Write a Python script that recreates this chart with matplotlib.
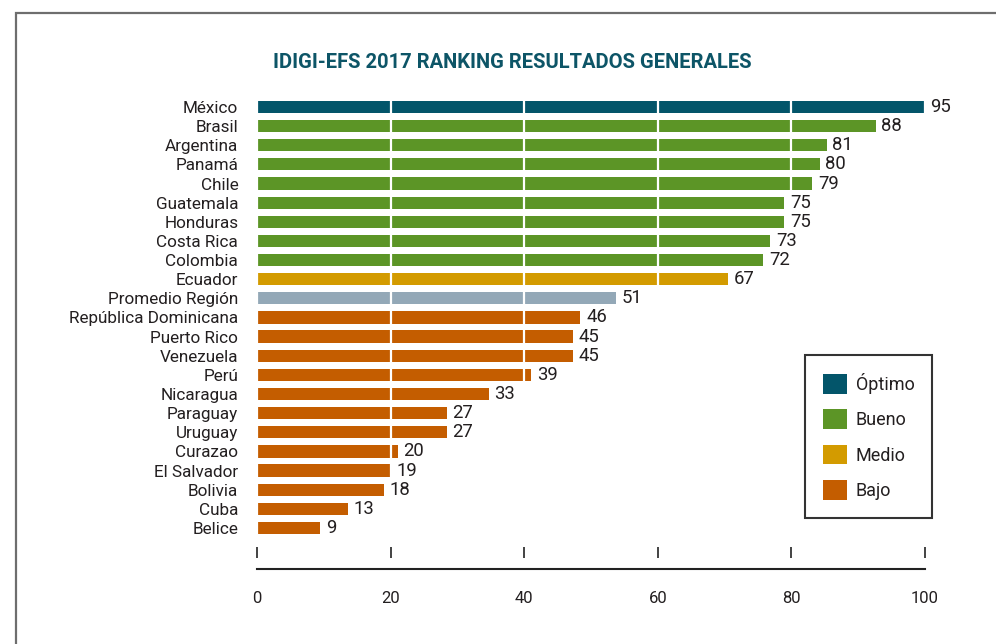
import matplotlib.pyplot as plt
from matplotlib.patches import Patch, Rectangle

plt.rcParams['font.family'] = ['Roboto', 'DejaVu Sans']

# datos del ranking
countries = ['México', 'Brasil', 'Argentina', 'Panamá', 'Chile', 'Guatemala',
             'Honduras', 'Costa Rica', 'Colombia', 'Ecuador', 'Promedio Región',
             'República Dominicana', 'Puerto Rico', 'Venezuela', 'Perú',
             'Nicaragua', 'Paraguay', 'Uruguay', 'Curazao', 'El Salvador',
             'Bolivia', 'Cuba', 'Belice']
values = [95, 88, 81, 80, 79, 75, 75, 73, 72, 67, 51, 46, 45, 45, 39, 33,
          27, 27, 20, 19, 18, 13, 9]
levels = ['Óptimo', 'Bueno', 'Bueno', 'Bueno', 'Bueno', 'Bueno', 'Bueno',
          'Bueno', 'Bueno', 'Medio', 'Promedio', 'Bajo', 'Bajo', 'Bajo', 'Bajo',
          'Bajo', 'Bajo', 'Bajo', 'Bajo', 'Bajo', 'Bajo', 'Bajo', 'Bajo']
legend_levels = ['Óptimo', 'Bueno', 'Medio', 'Bajo']
axis_ticks = [0, 20, 40, 60, 80, 100]

level_colors = {
    'Óptimo': '#03556a',
    'Bueno': '#5c9526',
    'Medio': '#d39b00',
    'Bajo': '#c45d00',
    'Promedio': '#93a8b7',
}
text_color = '#231f20'

fig = plt.figure(figsize=(9.96, 6.44), dpi=100)

# marco gris del recuadro
fig.patches.append(Rectangle((16 / 996, -0.2), 1.2, 1.2 - 13 / 644,
                             transform=fig.transFigure, fill=False,
                             edgecolor='#6e6e6e', linewidth=1.6))

ax = fig.add_axes([257 / 996, 86 / 644, 668 / 996, 460.6 / 644])
n = len(countries)
ypos = list(range(n))
ax.barh(ypos, values, height=0.64,
        color=[level_colors[l] for l in levels], zorder=2)
ax.set_xlim(0, max(values))
ax.set_ylim(n - 1 + 1.57, -0.5)

# eje de referencia 0-100 (encima de las barras)
ax2 = ax.twiny()
ax2.set_xlim(0, 100)
ax2.set_xticks(axis_ticks)
ax2.xaxis.set_ticks_position('bottom')
ax2.xaxis.set_label_position('bottom')
ax2.tick_params(axis='x', direction='in', length=8, width=1.2,
                color='#222222', pad=24, labelsize=12, labelcolor=text_color)
ax2.grid(axis='x', color='white', linewidth=1.6)
for s in ax2.spines.values():
    s.set_visible(False)
ax2.plot([0, 100], [-11 / 460.6] * 2, transform=ax2.get_xaxis_transform(),
         color='#222222', linewidth=1.5, clip_on=False)

ax.set_yticks(ypos)
ax.set_yticklabels(countries, fontsize=12.3, color=text_color)
ax.tick_params(axis='y', length=0, pad=13.5)
ax.tick_params(axis='x', bottom=False, top=False,
               labelbottom=False, labeltop=False)
for s in ax.spines.values():
    s.set_visible(False)

for y, v in zip(ypos, values):
    ax2.annotate(str(v), (v, y), xycoords=ax.transData,
                 xytext=(4, 0), textcoords='offset points',
                 ha='left', va='center', fontsize=13.3, color=text_color)

fig.text(512 / 996, 1 - 62 / 644, 'IDIGI-EFS 2017 RANKING RESULTADOS GENERALES',
         ha='center', va='center', fontsize=14.5, fontweight='bold',
         color='#0d5567')

handles = [Patch(facecolor=level_colors[l], edgecolor='none', label=l)
           for l in legend_levels]
leg = ax2.legend(handles=handles, loc='upper left',
                 bbox_to_anchor=(805 / 996, 1 - 355 / 644),
                 bbox_transform=fig.transFigure, fontsize=13,
                 handlelength=1.3, handleheight=1.3, handletextpad=0.5,
                 labelspacing=0.85, borderpad=1.0, borderaxespad=0,
                 fancybox=False, framealpha=1, edgecolor='#333333')
leg.get_frame().set_linewidth(1.5)
for t in leg.get_texts():
    t.set_color(text_color)

fig.savefig('out.png', dpi=100)
